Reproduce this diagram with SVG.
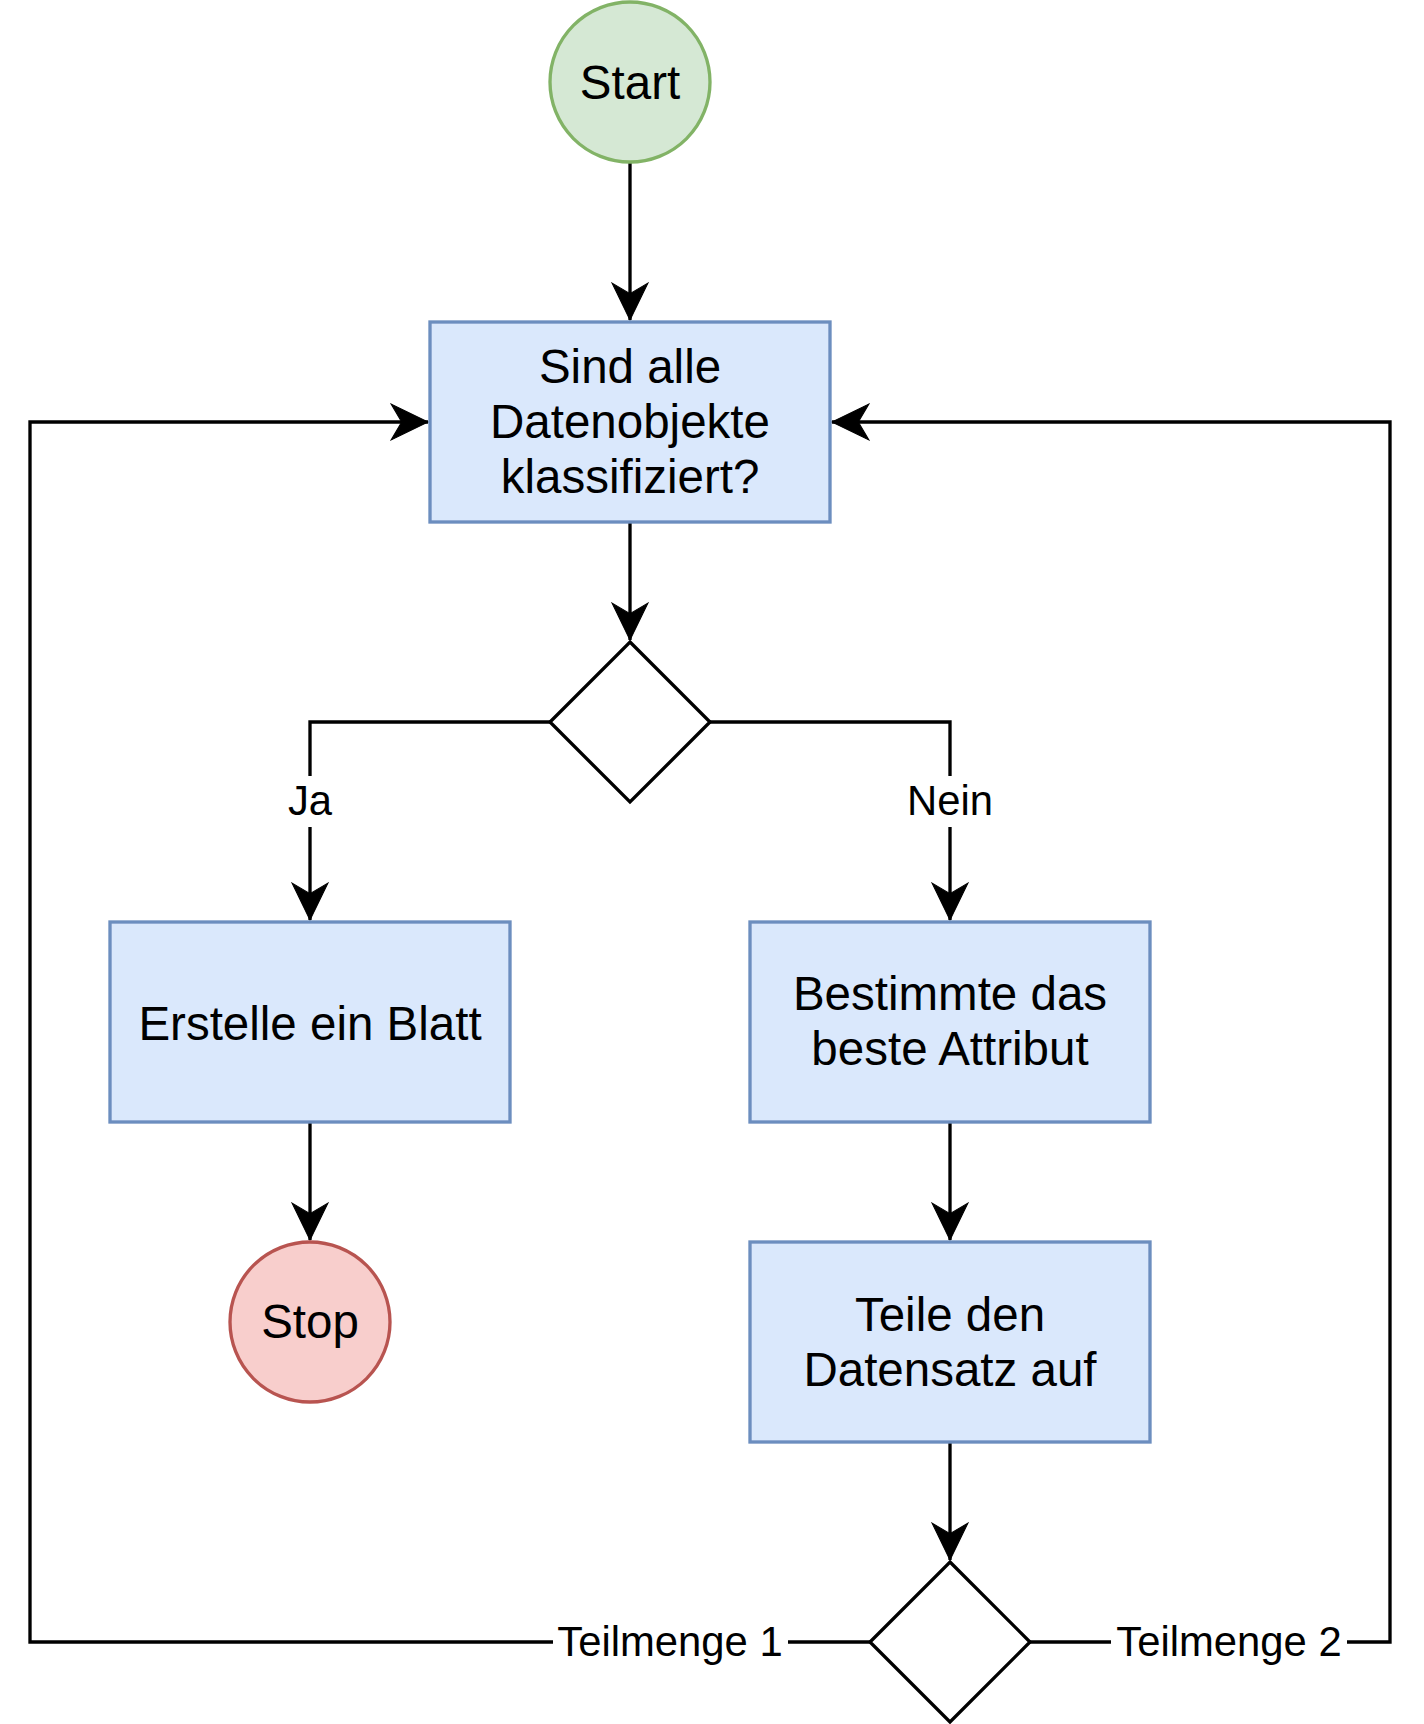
<svg xmlns="http://www.w3.org/2000/svg" width="1424" height="1724" viewBox="0 0 1424 1724">
  <style>
    .box { fill: #dae8fc; stroke: #6c8ebf; stroke-width: 3.33; }
    .start { fill: #d5e8d4; stroke: #82b366; stroke-width: 3.33; }
    .stop { fill: #f8cecc; stroke: #b85450; stroke-width: 3.33; }
    .dia { fill: #ffffff; stroke: #000000; stroke-width: 3.33; }
    .edge { fill: none; stroke: #000000; stroke-width: 3.33; }
    .t { font-family: "Liberation Sans", Arial, sans-serif; font-size: 47.5px; fill: #000000; text-anchor: middle; }
    .lbl { font-family: "Liberation Sans", Arial, sans-serif; font-size: 41.8px; fill: #000000; text-anchor: middle; }
    .lblbg { fill: #ffffff; }
  </style>
  <defs>
    <marker id="arr" markerUnits="userSpaceOnUse" markerWidth="40" markerHeight="40" viewBox="-36 -18 38 36" refX="0" refY="0" orient="auto">
      <path d="M0,0 L-35,-17 L-25,0 L-35,17 Z" fill="#000000" stroke="#000000" stroke-width="1"/>
    </marker>
  </defs>
  <rect width="1424" height="1724" fill="#ffffff"/>

  <g id="connectors">
    <path class="edge" d="M630,163 L630,320" marker-end="url(#arr)"/>
    <path class="edge" d="M630,522 L630,640" marker-end="url(#arr)"/>
    <path class="edge" d="M550,722 L310,722 L310,920" marker-end="url(#arr)"/>
    <path class="edge" d="M710,722 L950,722 L950,920" marker-end="url(#arr)"/>
    <path class="edge" d="M310,1122 L310,1240" marker-end="url(#arr)"/>
    <path class="edge" d="M950,1122 L950,1240" marker-end="url(#arr)"/>
    <path class="edge" d="M950,1442 L950,1560" marker-end="url(#arr)"/>
    <path class="edge" d="M870,1642 L30,1642 L30,422 L428,422" marker-end="url(#arr)"/>
    <path class="edge" d="M1030,1642 L1390,1642 L1390,422 L832,422" marker-end="url(#arr)"/>
    <g id="edge-labels">
      <rect class="lblbg" x="286" y="776" width="48" height="51"/>
      <text class="lbl" x="310" y="815">Ja</text>
      <rect class="lblbg" x="904" y="776" width="92" height="51"/>
      <text class="lbl" x="950" y="815">Nein</text>
      <rect class="lblbg" x="553" y="1616" width="235" height="50"/>
      <text class="lbl" x="670" y="1656">Teilmenge 1</text>
      <rect class="lblbg" x="1111" y="1616" width="236" height="50"/>
      <text class="lbl" x="1229" y="1656">Teilmenge 2</text>
    </g>
  </g>

  <g id="start">
    <circle class="start" cx="630" cy="82" r="80"/>
    <text class="t" x="630" y="99">Start</text>
  </g>
  <g id="check">
    <rect class="box" x="430" y="322" width="400" height="200"/>
    <text class="t" x="630" y="383">Sind alle</text>
    <text class="t" x="630" y="438">Datenobjekte</text>
    <text class="t" x="630" y="493">klassifiziert?</text>
  </g>
  <g id="decision1">
    <polygon class="dia" points="630,642 710,722 630,802 550,722"/>
  </g>
  <g id="leaf">
    <rect class="box" x="110" y="922" width="400" height="200"/>
    <text class="t" x="310" y="1040">Erstelle ein Blatt</text>
  </g>
  <g id="best">
    <rect class="box" x="750" y="922" width="400" height="200"/>
    <text class="t" x="950" y="1010">Bestimmte das</text>
    <text class="t" x="950" y="1065">beste Attribut</text>
  </g>
  <g id="stop">
    <circle class="stop" cx="310" cy="1322" r="80"/>
    <text class="t" x="310" y="1338">Stop</text>
  </g>
  <g id="split">
    <rect class="box" x="750" y="1242" width="400" height="200"/>
    <text class="t" x="950" y="1331">Teile den</text>
    <text class="t" x="950" y="1386">Datensatz auf</text>
  </g>
  <g id="decision2">
    <polygon class="dia" points="950,1562 1030,1642 950,1722 870,1642"/>
  </g>
</svg>
